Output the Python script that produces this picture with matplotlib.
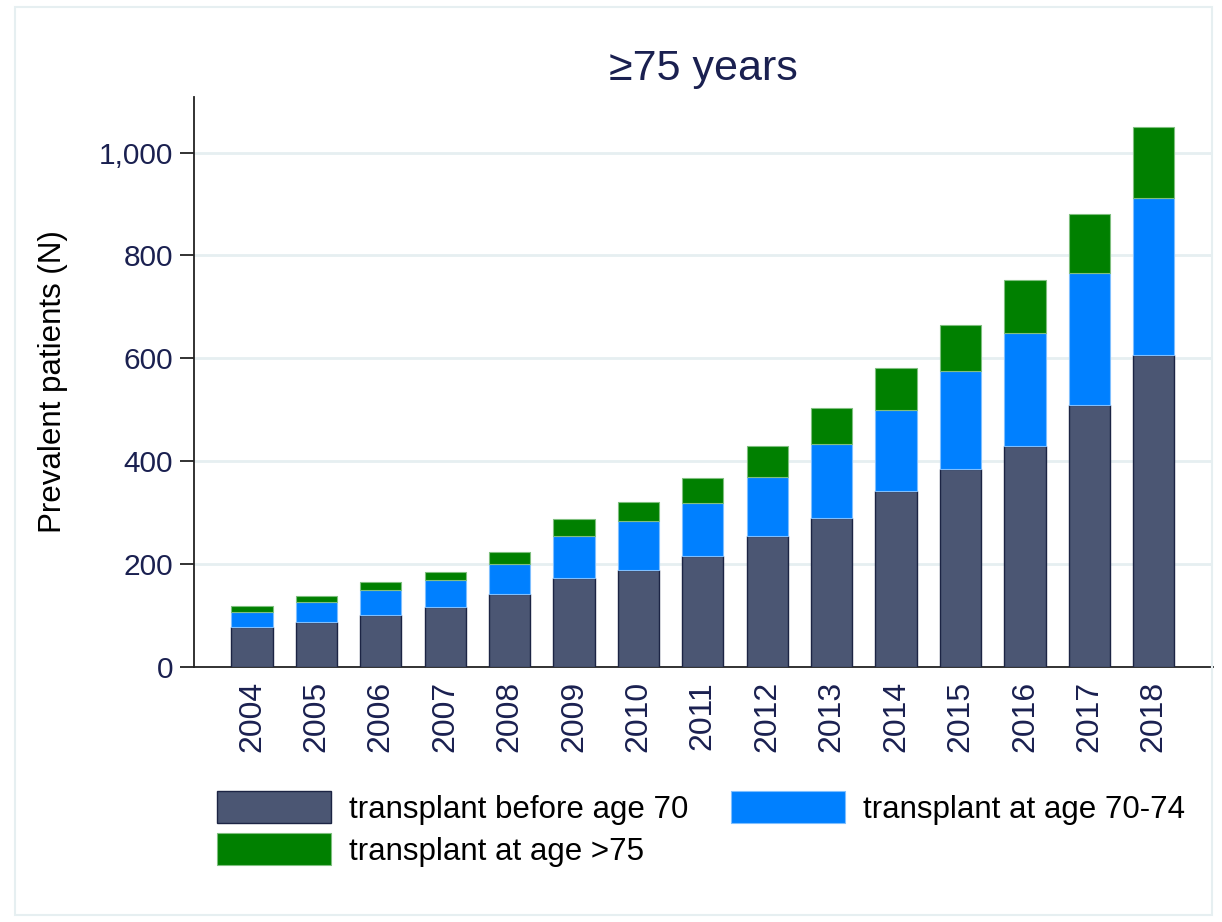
import numpy as np
import matplotlib
matplotlib.use('Agg')
import matplotlib.pyplot as plt
from matplotlib.patches import Rectangle

# Prevalent transplant patients aged >=75, by age at transplant
years = ['2004', '2005', '2006', '2007', '2008', '2009', '2010', '2011',
         '2012', '2013', '2014', '2015', '2016', '2017', '2018']
before_70 = [78, 88, 101, 117, 142, 173, 189, 216, 254, 290, 342, 384, 430, 510, 607]
age_70_74 = [29, 39, 49, 53, 59, 82, 94, 102, 116, 144, 158, 192, 219, 255, 304]
age_75 = [12, 11, 16, 15, 23, 32, 37, 50, 60, 69, 81, 89, 104, 115, 138]

labels = ['transplant before age 70', 'transplant at age 70-74', 'transplant at age >75']
colors = ['#4b5673', '#0080ff', '#008000']
edges = ['#1c2444', '#7fbfff', '#7fbf7f']

plt.rcParams['font.family'] = ['Liberation Sans', 'DejaVu Sans']
navy = '#1a2050'

fig = plt.figure(figsize=(12.22, 9.22), dpi=100)
fig.patches.append(Rectangle((15 / 1222, 1 - 915 / 922), 1197 / 1222, 908 / 922,
                             transform=fig.transFigure, fill=False,
                             edgecolor='#e6eff1', linewidth=1.5))
ax = fig.add_axes([194 / 1222, 1 - 667 / 922, (1213 - 194) / 1222, (667 - 97) / 922])

x = np.arange(len(years))
b1 = np.array(before_70)
b2 = np.array(age_70_74)
b3 = np.array(age_75)
w = 0.64
ax.bar(x, b1, w, color=colors[0], edgecolor=edges[0], linewidth=1, label=labels[0], zorder=3)
ax.bar(x, b2, w, bottom=b1, color=colors[1], edgecolor=edges[1], linewidth=0.8,
       label=labels[1], zorder=3)
ax.bar(x, b3, w, bottom=b1 + b2, color=colors[2], edgecolor=edges[2], linewidth=0.8,
       label=labels[2], zorder=3)

ax.set_xlim(-0.9, 14.92)
ax.set_ylim(0, 1108)
ax.set_yticks([0, 200, 400, 600, 800, 1000])
ax.set_yticklabels(['0', '200', '400', '600', '800', '1,000'])
ax.set_xticks(x)
ax.set_xticklabels(years, rotation=90)
for yv in [200, 400, 600, 800, 1000]:
    ax.axhline(yv, color='#e6eff1', linewidth=2, zorder=1)

for s in ['top', 'right']:
    ax.spines[s].set_visible(False)
for s in ['left', 'bottom']:
    ax.spines[s].set_color('#222222')
    ax.spines[s].set_linewidth(1.3)
ax.tick_params(axis='y', labelsize=21.5, labelcolor=navy, color='#222222',
               length=10, width=1.3, pad=5)
ax.tick_params(axis='x', labelsize=23, labelcolor=navy, length=0, pad=10)
ax.set_ylabel('Prevalent patients (N)', fontsize=22.5)
ax.yaxis.set_label_coords(-0.124, 0.5)
ax.set_title('≥75 years', fontsize=31, color=navy, pad=12)

handles, lbls = ax.get_legend_handles_labels()
order = [0, 2, 1]
leg = fig.legend([handles[i] for i in order], [lbls[i] for i in order],
                 loc='upper left', bbox_to_anchor=(217 / 1222, 1 - 791 / 922),
                 ncol=2, frameon=False, fontsize=22.5, borderpad=0, borderaxespad=0,
                 handlelength=3.65, handleheight=1.2, handletextpad=0.57,
                 columnspacing=1.37, labelspacing=0.28)

fig.savefig('out.png', dpi=100, facecolor='white')
